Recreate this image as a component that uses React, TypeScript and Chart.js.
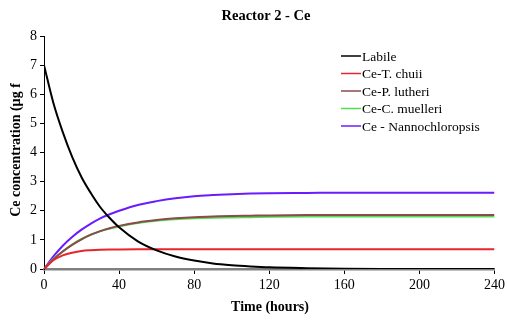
import React, { useEffect, useRef } from "react";
import { Chart, registerables } from "chart.js";

Chart.register(...registerables);

const times = [0, 5, 10, 15, 20, 25, 30, 35, 40, 50, 60, 70, 80, 90, 100, 110, 120, 140, 160, 180, 200, 220, 240];
const labile = [7, 5.7, 4.7, 3.85, 3.15, 2.6, 2.12, 1.75, 1.43, 0.95, 0.64, 0.43, 0.29, 0.19, 0.13, 0.09, 0.06, 0.03, 0.01, 0, 0, 0, 0];
const tChuii = [0, 0.3, 0.47, 0.56, 0.62, 0.645, 0.66, 0.668, 0.672, 0.677, 0.68, 0.68, 0.68, 0.68, 0.68, 0.68, 0.68, 0.68, 0.68, 0.68, 0.68, 0.68, 0.68];
const pLutheri = [0, 0.33, 0.6, 0.83, 1.02, 1.18, 1.3, 1.4, 1.48, 1.6, 1.68, 1.74, 1.78, 1.8, 1.82, 1.83, 1.84, 1.85, 1.85, 1.85, 1.85, 1.85, 1.85];
const cMuelleri = [0, 0.34, 0.61, 0.84, 1.03, 1.18, 1.3, 1.39, 1.46, 1.58, 1.66, 1.71, 1.74, 1.76, 1.77, 1.78, 1.79, 1.8, 1.8, 1.8, 1.8, 1.8, 1.8];
const nanno = [0, 0.43, 0.8, 1.1, 1.35, 1.56, 1.74, 1.88, 2.0, 2.2, 2.33, 2.43, 2.5, 2.54, 2.57, 2.59, 2.6, 2.61, 2.62, 2.62, 2.62, 2.62, 2.62];

const seriesLabels = ["Labile", "Ce-T. chuii", "Ce-P. lutheri", "Ce-C. muelleri", "Ce - Nannochloropsis"];
const seriesData = [labile, tChuii, pLutheri, cMuelleri, nanno];
const seriesColors = ["#000000", "#e8242c", "#8a4a4e", "#4ee04e", "#6a1cff"];

const chartTitle = "Reactor 2 - Ce";
const xTitle = "Time (hours)";
const yTitle = "Ce concentration (µg f";

const SERIF = "'Liberation Serif', 'Times New Roman', serif";

const textPlugin = {
  id: "customText",
  afterDraw(chart: any) {
    const ctx = chart.ctx;
    ctx.save();
    ctx.fillStyle = "#000";
    ctx.font = `bold 14.5px ${SERIF}`;
    ctx.textAlign = "center";
    ctx.textBaseline = "middle";
    ctx.fillText(chartTitle, 266, 16);
    ctx.font = `bold 14px ${SERIF}`;
    ctx.fillText(xTitle, 270, 307);
    ctx.save();
    ctx.translate(16, 150);
    ctx.rotate(-Math.PI / 2);
    ctx.fillText(yTitle, 0, 0);
    ctx.restore();

    // legend
    ctx.font = `13.5px ${SERIF}`;
    ctx.textAlign = "left";
    const ds = chart.data.datasets;
    ds.forEach((d: any, i: number) => {
      const y = 56 + i * 17.5;
      ctx.strokeStyle = d.borderColor;
      ctx.lineWidth = 1.5;
      ctx.beginPath();
      ctx.moveTo(341, y);
      ctx.lineTo(361, y);
      ctx.stroke();
      ctx.fillStyle = "#000";
      ctx.fillText(d.label, 362, y + 1);
    });
    ctx.restore();
  },
};

export default function App() {
  const ref = useRef<HTMLCanvasElement>(null);
  useEffect(() => {
    document.body.style.margin = "0";
    const datasets = seriesLabels.map((label, i) => ({
      label,
      data: times.map((t, j) => ({ x: t, y: seriesData[i][j] })),
      borderColor: seriesColors[i],
      backgroundColor: seriesColors[i],
      borderWidth: 2,
      pointRadius: 0,
      fill: false,
      cubicInterpolationMode: "monotone" as const,
      order: i === 0 ? 0 : 1,
    }));
    const chart = new Chart(ref.current!, {
      type: "line",
      data: { datasets },
      plugins: [textPlugin],
      options: {
        animation: false,
        responsive: false,
        maintainAspectRatio: false,
        layout: { padding: { top: 36, right: 11, left: 0, bottom: 0 } },
        plugins: { legend: { display: false }, title: { display: false }, tooltip: { enabled: false } },
        scales: {
          x: {
            type: "linear",
            min: 0,
            max: 240,
            ticks: { stepSize: 40, color: "#000", font: { family: SERIF, size: 14 }, padding: 3, maxRotation: 0 },
            grid: { drawOnChartArea: false, drawTicks: true, tickLength: 5, color: "#000" },
            border: { color: "#808080", width: 2.5 },
            afterFit: (s: any) => { s.height = 51; },
          },
          y: {
            min: 0,
            max: 8,
            ticks: { stepSize: 1, color: "#000", font: { family: SERIF, size: 14 }, padding: 3 },
            grid: { drawOnChartArea: false, drawTicks: true, tickLength: 4, color: "#000" },
            border: { color: "#000", width: 1 },
            afterFit: (s: any) => { s.width = 44; },
          },
        },
      },
    });
    return () => chart.destroy();
  }, []);
  return (
    <div style={{ width: 508, height: 320 }}>
      <canvas ref={ref} width={508} height={320} style={{ width: 508, height: 320, display: "block" }} />
    </div>
  );
}
